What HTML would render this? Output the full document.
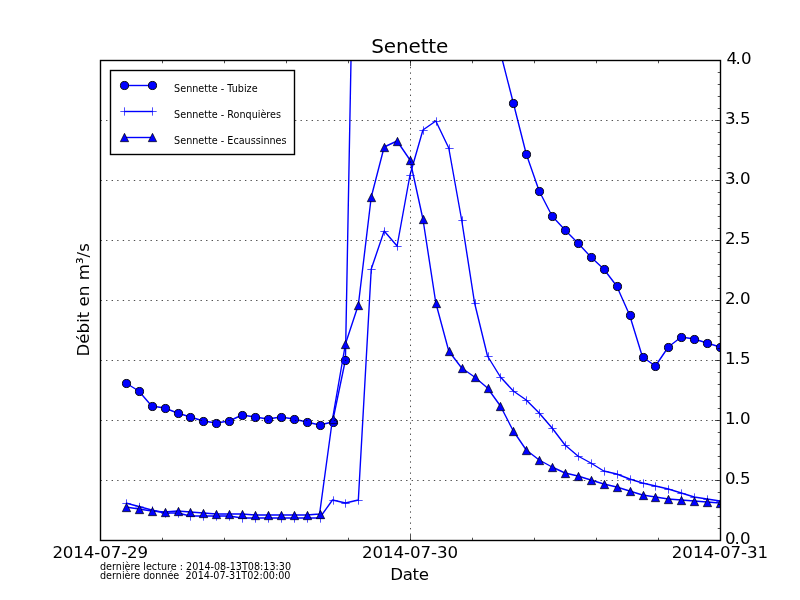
<!DOCTYPE html>
<html lang="fr"><head><meta charset="utf-8"><title>Senette</title>
<style>html,body{margin:0;padding:0;background:#fff}body{width:800px;height:600px;overflow:hidden}svg{display:block}text{font-family:"DejaVu Sans","Liberation Sans",sans-serif;fill:#000}.t{font-size:16.667px}.s{font-size:9.65px;white-space:pre}.h{font-size:20px}</style></head><body>
<svg width="800" height="600" viewBox="0 0 800 600">
<rect width="800" height="600" fill="#fff"/>
<defs><clipPath id="ax"><rect x="100.5" y="60.5" width="620" height="480"/></clipPath></defs>
<g clip-path="url(#ax)">
<polyline points="125.83,383 138.75,391 151.67,406 164.58,408 177.5,413 190.42,417 203.33,421 216.25,423 229.17,421 242.08,415 255,417 267.92,419 280.83,417 293.75,419 306.67,422 319.58,425 332.5,422 345.42,360 358.33,-334.5 371.25,-500.5 384.17,-500.5 397.08,-500.5 410,-500.5 422.92,-500.5 435.83,-500.5 448.75,-500.5 461.67,-500.5 474.58,-400.5 487.5,-200.5 500.42,52.5 513.33,103 526.25,154 539.17,191 552.08,216 565,230 577.92,243 590.83,257 603.75,269 616.67,286 629.58,315 642.5,357 655.42,366 668.33,347 681.25,337 694.17,339 707.08,343 720,347" fill="none" stroke="#0000ff" stroke-width="1.39" stroke-linejoin="round"/>
<circle cx="126.5" cy="383.5" r="4.05" fill="#0000ff" stroke="#000" stroke-width="0.95"/><circle cx="139.5" cy="391.5" r="4.05" fill="#0000ff" stroke="#000" stroke-width="0.95"/><circle cx="152.5" cy="406.5" r="4.05" fill="#0000ff" stroke="#000" stroke-width="0.95"/><circle cx="165.5" cy="408.5" r="4.05" fill="#0000ff" stroke="#000" stroke-width="0.95"/><circle cx="178.5" cy="413.5" r="4.05" fill="#0000ff" stroke="#000" stroke-width="0.95"/><circle cx="190.5" cy="417.5" r="4.05" fill="#0000ff" stroke="#000" stroke-width="0.95"/><circle cx="203.5" cy="421.5" r="4.05" fill="#0000ff" stroke="#000" stroke-width="0.95"/><circle cx="216.5" cy="423.5" r="4.05" fill="#0000ff" stroke="#000" stroke-width="0.95"/><circle cx="229.5" cy="421.5" r="4.05" fill="#0000ff" stroke="#000" stroke-width="0.95"/><circle cx="242.5" cy="415.5" r="4.05" fill="#0000ff" stroke="#000" stroke-width="0.95"/><circle cx="255.5" cy="417.5" r="4.05" fill="#0000ff" stroke="#000" stroke-width="0.95"/><circle cx="268.5" cy="419.5" r="4.05" fill="#0000ff" stroke="#000" stroke-width="0.95"/><circle cx="281.5" cy="417.5" r="4.05" fill="#0000ff" stroke="#000" stroke-width="0.95"/><circle cx="294.5" cy="419.5" r="4.05" fill="#0000ff" stroke="#000" stroke-width="0.95"/><circle cx="307.5" cy="422.5" r="4.05" fill="#0000ff" stroke="#000" stroke-width="0.95"/><circle cx="320.5" cy="425.5" r="4.05" fill="#0000ff" stroke="#000" stroke-width="0.95"/><circle cx="333.5" cy="422.5" r="4.05" fill="#0000ff" stroke="#000" stroke-width="0.95"/><circle cx="345.5" cy="360.5" r="4.05" fill="#0000ff" stroke="#000" stroke-width="0.95"/><circle cx="500.5" cy="53" r="4.05" fill="#0000ff" stroke="#000" stroke-width="0.95"/><circle cx="513.5" cy="103.5" r="4.05" fill="#0000ff" stroke="#000" stroke-width="0.95"/><circle cx="526.5" cy="154.5" r="4.05" fill="#0000ff" stroke="#000" stroke-width="0.95"/><circle cx="539.5" cy="191.5" r="4.05" fill="#0000ff" stroke="#000" stroke-width="0.95"/><circle cx="552.5" cy="216.5" r="4.05" fill="#0000ff" stroke="#000" stroke-width="0.95"/><circle cx="565.5" cy="230.5" r="4.05" fill="#0000ff" stroke="#000" stroke-width="0.95"/><circle cx="578.5" cy="243.5" r="4.05" fill="#0000ff" stroke="#000" stroke-width="0.95"/><circle cx="591.5" cy="257.5" r="4.05" fill="#0000ff" stroke="#000" stroke-width="0.95"/><circle cx="604.5" cy="269.5" r="4.05" fill="#0000ff" stroke="#000" stroke-width="0.95"/><circle cx="617.5" cy="286.5" r="4.05" fill="#0000ff" stroke="#000" stroke-width="0.95"/><circle cx="630.5" cy="315.5" r="4.05" fill="#0000ff" stroke="#000" stroke-width="0.95"/><circle cx="643.5" cy="357.5" r="4.05" fill="#0000ff" stroke="#000" stroke-width="0.95"/><circle cx="655.5" cy="366.5" r="4.05" fill="#0000ff" stroke="#000" stroke-width="0.95"/><circle cx="668.5" cy="347.5" r="4.05" fill="#0000ff" stroke="#000" stroke-width="0.95"/><circle cx="681.5" cy="337.5" r="4.05" fill="#0000ff" stroke="#000" stroke-width="0.95"/><circle cx="694.5" cy="339.5" r="4.05" fill="#0000ff" stroke="#000" stroke-width="0.95"/><circle cx="707.5" cy="343.5" r="4.05" fill="#0000ff" stroke="#000" stroke-width="0.95"/><circle cx="720.5" cy="347.5" r="4.05" fill="#0000ff" stroke="#000" stroke-width="0.95"/>
<polyline points="125.83,503 138.75,506.5 151.67,510 164.58,513 177.5,513 190.42,516 203.33,516 216.25,516 229.17,516 242.08,518 255,518 267.92,518 280.83,518 293.75,518 306.67,518 319.58,518 332.5,500 345.42,503 358.33,500 371.25,269 384.17,231 397.08,246 410,175 422.92,130 435.83,121 448.75,148 461.67,220 474.58,303 487.5,356 500.42,377 513.33,391 526.25,400 539.17,413 552.08,428 565,445 577.92,456 590.83,463 603.75,471 616.67,474 629.58,479 642.5,483 655.42,486 668.33,489 681.25,493 694.17,497 707.08,499 720,501" fill="none" stroke="#0000ff" stroke-width="1.39" stroke-linejoin="round"/>
<path d="M122.33 503.5H130.67M126.5 499.33V507.67" fill="none" stroke="#0000ff" stroke-width="0.69"/><path d="M135.33 507H143.67M139.5 502.83V511.17" fill="none" stroke="#0000ff" stroke-width="0.69"/><path d="M148.33 510.5H156.67M152.5 506.33V514.67" fill="none" stroke="#0000ff" stroke-width="0.69"/><path d="M161.33 513.5H169.67M165.5 509.33V517.67" fill="none" stroke="#0000ff" stroke-width="0.69"/><path d="M174.33 513.5H182.67M178.5 509.33V517.67" fill="none" stroke="#0000ff" stroke-width="0.69"/><path d="M186.33 516.5H194.67M190.5 512.33V520.67" fill="none" stroke="#0000ff" stroke-width="0.69"/><path d="M199.33 516.5H207.67M203.5 512.33V520.67" fill="none" stroke="#0000ff" stroke-width="0.69"/><path d="M212.33 516.5H220.67M216.5 512.33V520.67" fill="none" stroke="#0000ff" stroke-width="0.69"/><path d="M225.33 516.5H233.67M229.5 512.33V520.67" fill="none" stroke="#0000ff" stroke-width="0.69"/><path d="M238.33 518.5H246.67M242.5 514.33V522.67" fill="none" stroke="#0000ff" stroke-width="0.69"/><path d="M251.33 518.5H259.67M255.5 514.33V522.67" fill="none" stroke="#0000ff" stroke-width="0.69"/><path d="M264.33 518.5H272.67M268.5 514.33V522.67" fill="none" stroke="#0000ff" stroke-width="0.69"/><path d="M277.33 518.5H285.67M281.5 514.33V522.67" fill="none" stroke="#0000ff" stroke-width="0.69"/><path d="M290.33 518.5H298.67M294.5 514.33V522.67" fill="none" stroke="#0000ff" stroke-width="0.69"/><path d="M303.33 518.5H311.67M307.5 514.33V522.67" fill="none" stroke="#0000ff" stroke-width="0.69"/><path d="M316.33 518.5H324.67M320.5 514.33V522.67" fill="none" stroke="#0000ff" stroke-width="0.69"/><path d="M329.33 500.5H337.67M333.5 496.33V504.67" fill="none" stroke="#0000ff" stroke-width="0.69"/><path d="M341.33 503.5H349.67M345.5 499.33V507.67" fill="none" stroke="#0000ff" stroke-width="0.69"/><path d="M354.33 500.5H362.67M358.5 496.33V504.67" fill="none" stroke="#0000ff" stroke-width="0.69"/><path d="M367.33 269.5H375.67M371.5 265.33V273.67" fill="none" stroke="#0000ff" stroke-width="0.69"/><path d="M380.33 231.5H388.67M384.5 227.33V235.67" fill="none" stroke="#0000ff" stroke-width="0.69"/><path d="M393.33 246.5H401.67M397.5 242.33V250.67" fill="none" stroke="#0000ff" stroke-width="0.69"/><path d="M406.33 175.5H414.67M410.5 171.33V179.67" fill="none" stroke="#0000ff" stroke-width="0.69"/><path d="M419.33 130.5H427.67M423.5 126.33V134.67" fill="none" stroke="#0000ff" stroke-width="0.69"/><path d="M432.33 121.5H440.67M436.5 117.33V125.67" fill="none" stroke="#0000ff" stroke-width="0.69"/><path d="M445.33 148.5H453.67M449.5 144.33V152.67" fill="none" stroke="#0000ff" stroke-width="0.69"/><path d="M458.33 220.5H466.67M462.5 216.33V224.67" fill="none" stroke="#0000ff" stroke-width="0.69"/><path d="M471.33 303.5H479.67M475.5 299.33V307.67" fill="none" stroke="#0000ff" stroke-width="0.69"/><path d="M484.33 356.5H492.67M488.5 352.33V360.67" fill="none" stroke="#0000ff" stroke-width="0.69"/><path d="M496.33 377.5H504.67M500.5 373.33V381.67" fill="none" stroke="#0000ff" stroke-width="0.69"/><path d="M509.33 391.5H517.67M513.5 387.33V395.67" fill="none" stroke="#0000ff" stroke-width="0.69"/><path d="M522.33 400.5H530.67M526.5 396.33V404.67" fill="none" stroke="#0000ff" stroke-width="0.69"/><path d="M535.33 413.5H543.67M539.5 409.33V417.67" fill="none" stroke="#0000ff" stroke-width="0.69"/><path d="M548.33 428.5H556.67M552.5 424.33V432.67" fill="none" stroke="#0000ff" stroke-width="0.69"/><path d="M561.33 445.5H569.67M565.5 441.33V449.67" fill="none" stroke="#0000ff" stroke-width="0.69"/><path d="M574.33 456.5H582.67M578.5 452.33V460.67" fill="none" stroke="#0000ff" stroke-width="0.69"/><path d="M587.33 463.5H595.67M591.5 459.33V467.67" fill="none" stroke="#0000ff" stroke-width="0.69"/><path d="M600.33 471.5H608.67M604.5 467.33V475.67" fill="none" stroke="#0000ff" stroke-width="0.69"/><path d="M613.33 474.5H621.67M617.5 470.33V478.67" fill="none" stroke="#0000ff" stroke-width="0.69"/><path d="M626.33 479.5H634.67M630.5 475.33V483.67" fill="none" stroke="#0000ff" stroke-width="0.69"/><path d="M639.33 483.5H647.67M643.5 479.33V487.67" fill="none" stroke="#0000ff" stroke-width="0.69"/><path d="M651.33 486.5H659.67M655.5 482.33V490.67" fill="none" stroke="#0000ff" stroke-width="0.69"/><path d="M664.33 489.5H672.67M668.5 485.33V493.67" fill="none" stroke="#0000ff" stroke-width="0.69"/><path d="M677.33 493.5H685.67M681.5 489.33V497.67" fill="none" stroke="#0000ff" stroke-width="0.69"/><path d="M690.33 497.5H698.67M694.5 493.33V501.67" fill="none" stroke="#0000ff" stroke-width="0.69"/><path d="M703.33 499.5H711.67M707.5 495.33V503.67" fill="none" stroke="#0000ff" stroke-width="0.69"/><path d="M716.33 501.5H724.67M720.5 497.33V505.67" fill="none" stroke="#0000ff" stroke-width="0.69"/>
<polyline points="125.83,507 138.75,509 151.67,511 164.58,512 177.5,511 190.42,512 203.33,513 216.25,514 229.17,514 242.08,514 255,515 267.92,515 280.83,515 293.75,515 306.67,515 319.58,514 332.5,419 345.42,344 358.33,305 371.25,197 384.17,147 397.08,141 410,160 422.92,219 435.83,303 448.75,351 461.67,368 474.58,377 487.5,388 500.42,406 513.33,431 526.25,450 539.17,460 552.08,467 565,473 577.92,476 590.83,480 603.75,484 616.67,487 629.58,491 642.5,495 655.42,497 668.33,499 681.25,500 694.17,501 707.08,502 720,503" fill="none" stroke="#0000ff" stroke-width="1.39" stroke-linejoin="round"/>
<path d="M126.5 503.33L122.33 511.67L130.67 511.67Z" fill="#0000ff" stroke="#000" stroke-width="0.69" stroke-linejoin="miter"/><path d="M139.5 505.33L135.33 513.67L143.67 513.67Z" fill="#0000ff" stroke="#000" stroke-width="0.69" stroke-linejoin="miter"/><path d="M152.5 507.33L148.33 515.67L156.67 515.67Z" fill="#0000ff" stroke="#000" stroke-width="0.69" stroke-linejoin="miter"/><path d="M165.5 508.33L161.33 516.67L169.67 516.67Z" fill="#0000ff" stroke="#000" stroke-width="0.69" stroke-linejoin="miter"/><path d="M178.5 507.33L174.33 515.67L182.67 515.67Z" fill="#0000ff" stroke="#000" stroke-width="0.69" stroke-linejoin="miter"/><path d="M190.5 508.33L186.33 516.67L194.67 516.67Z" fill="#0000ff" stroke="#000" stroke-width="0.69" stroke-linejoin="miter"/><path d="M203.5 509.33L199.33 517.67L207.67 517.67Z" fill="#0000ff" stroke="#000" stroke-width="0.69" stroke-linejoin="miter"/><path d="M216.5 510.33L212.33 518.67L220.67 518.67Z" fill="#0000ff" stroke="#000" stroke-width="0.69" stroke-linejoin="miter"/><path d="M229.5 510.33L225.33 518.67L233.67 518.67Z" fill="#0000ff" stroke="#000" stroke-width="0.69" stroke-linejoin="miter"/><path d="M242.5 510.33L238.33 518.67L246.67 518.67Z" fill="#0000ff" stroke="#000" stroke-width="0.69" stroke-linejoin="miter"/><path d="M255.5 511.33L251.33 519.67L259.67 519.67Z" fill="#0000ff" stroke="#000" stroke-width="0.69" stroke-linejoin="miter"/><path d="M268.5 511.33L264.33 519.67L272.67 519.67Z" fill="#0000ff" stroke="#000" stroke-width="0.69" stroke-linejoin="miter"/><path d="M281.5 511.33L277.33 519.67L285.67 519.67Z" fill="#0000ff" stroke="#000" stroke-width="0.69" stroke-linejoin="miter"/><path d="M294.5 511.33L290.33 519.67L298.67 519.67Z" fill="#0000ff" stroke="#000" stroke-width="0.69" stroke-linejoin="miter"/><path d="M307.5 511.33L303.33 519.67L311.67 519.67Z" fill="#0000ff" stroke="#000" stroke-width="0.69" stroke-linejoin="miter"/><path d="M320.5 510.33L316.33 518.67L324.67 518.67Z" fill="#0000ff" stroke="#000" stroke-width="0.69" stroke-linejoin="miter"/><path d="M333.5 415.33L329.33 423.67L337.67 423.67Z" fill="#0000ff" stroke="#000" stroke-width="0.69" stroke-linejoin="miter"/><path d="M345.5 340.33L341.33 348.67L349.67 348.67Z" fill="#0000ff" stroke="#000" stroke-width="0.69" stroke-linejoin="miter"/><path d="M358.5 301.33L354.33 309.67L362.67 309.67Z" fill="#0000ff" stroke="#000" stroke-width="0.69" stroke-linejoin="miter"/><path d="M371.5 193.33L367.33 201.67L375.67 201.67Z" fill="#0000ff" stroke="#000" stroke-width="0.69" stroke-linejoin="miter"/><path d="M384.5 143.33L380.33 151.67L388.67 151.67Z" fill="#0000ff" stroke="#000" stroke-width="0.69" stroke-linejoin="miter"/><path d="M397.5 137.33L393.33 145.67L401.67 145.67Z" fill="#0000ff" stroke="#000" stroke-width="0.69" stroke-linejoin="miter"/><path d="M410.5 156.33L406.33 164.67L414.67 164.67Z" fill="#0000ff" stroke="#000" stroke-width="0.69" stroke-linejoin="miter"/><path d="M423.5 215.33L419.33 223.67L427.67 223.67Z" fill="#0000ff" stroke="#000" stroke-width="0.69" stroke-linejoin="miter"/><path d="M436.5 299.33L432.33 307.67L440.67 307.67Z" fill="#0000ff" stroke="#000" stroke-width="0.69" stroke-linejoin="miter"/><path d="M449.5 347.33L445.33 355.67L453.67 355.67Z" fill="#0000ff" stroke="#000" stroke-width="0.69" stroke-linejoin="miter"/><path d="M462.5 364.33L458.33 372.67L466.67 372.67Z" fill="#0000ff" stroke="#000" stroke-width="0.69" stroke-linejoin="miter"/><path d="M475.5 373.33L471.33 381.67L479.67 381.67Z" fill="#0000ff" stroke="#000" stroke-width="0.69" stroke-linejoin="miter"/><path d="M488.5 384.33L484.33 392.67L492.67 392.67Z" fill="#0000ff" stroke="#000" stroke-width="0.69" stroke-linejoin="miter"/><path d="M500.5 402.33L496.33 410.67L504.67 410.67Z" fill="#0000ff" stroke="#000" stroke-width="0.69" stroke-linejoin="miter"/><path d="M513.5 427.33L509.33 435.67L517.67 435.67Z" fill="#0000ff" stroke="#000" stroke-width="0.69" stroke-linejoin="miter"/><path d="M526.5 446.33L522.33 454.67L530.67 454.67Z" fill="#0000ff" stroke="#000" stroke-width="0.69" stroke-linejoin="miter"/><path d="M539.5 456.33L535.33 464.67L543.67 464.67Z" fill="#0000ff" stroke="#000" stroke-width="0.69" stroke-linejoin="miter"/><path d="M552.5 463.33L548.33 471.67L556.67 471.67Z" fill="#0000ff" stroke="#000" stroke-width="0.69" stroke-linejoin="miter"/><path d="M565.5 469.33L561.33 477.67L569.67 477.67Z" fill="#0000ff" stroke="#000" stroke-width="0.69" stroke-linejoin="miter"/><path d="M578.5 472.33L574.33 480.67L582.67 480.67Z" fill="#0000ff" stroke="#000" stroke-width="0.69" stroke-linejoin="miter"/><path d="M591.5 476.33L587.33 484.67L595.67 484.67Z" fill="#0000ff" stroke="#000" stroke-width="0.69" stroke-linejoin="miter"/><path d="M604.5 480.33L600.33 488.67L608.67 488.67Z" fill="#0000ff" stroke="#000" stroke-width="0.69" stroke-linejoin="miter"/><path d="M617.5 483.33L613.33 491.67L621.67 491.67Z" fill="#0000ff" stroke="#000" stroke-width="0.69" stroke-linejoin="miter"/><path d="M630.5 487.33L626.33 495.67L634.67 495.67Z" fill="#0000ff" stroke="#000" stroke-width="0.69" stroke-linejoin="miter"/><path d="M643.5 491.33L639.33 499.67L647.67 499.67Z" fill="#0000ff" stroke="#000" stroke-width="0.69" stroke-linejoin="miter"/><path d="M655.5 493.33L651.33 501.67L659.67 501.67Z" fill="#0000ff" stroke="#000" stroke-width="0.69" stroke-linejoin="miter"/><path d="M668.5 495.33L664.33 503.67L672.67 503.67Z" fill="#0000ff" stroke="#000" stroke-width="0.69" stroke-linejoin="miter"/><path d="M681.5 496.33L677.33 504.67L685.67 504.67Z" fill="#0000ff" stroke="#000" stroke-width="0.69" stroke-linejoin="miter"/><path d="M694.5 497.33L690.33 505.67L698.67 505.67Z" fill="#0000ff" stroke="#000" stroke-width="0.69" stroke-linejoin="miter"/><path d="M707.5 498.33L703.33 506.67L711.67 506.67Z" fill="#0000ff" stroke="#000" stroke-width="0.69" stroke-linejoin="miter"/><path d="M720.5 499.33L716.33 507.67L724.67 507.67Z" fill="#0000ff" stroke="#000" stroke-width="0.69" stroke-linejoin="miter"/>
</g>
<path d="M100.5 480.5H720.5M100.5 420.5H720.5M100.5 360.5H720.5M100.5 300.5H720.5M100.5 240.5H720.5M100.5 180.5H720.5M100.5 120.5H720.5" fill="none" stroke="#000" stroke-width="0.69" stroke-dasharray="1.389 4.167"/>
<path d="M410.5 540.5V60.5" fill="none" stroke="#000" stroke-width="0.69" stroke-dasharray="1.389 4.167"/>
<path d="M100.5 540.5v-5.56M100.5 60.5v5.56M410.5 540.5v-5.56M410.5 60.5v5.56M720.5 540.5v-5.56M720.5 60.5v5.56M720.5 540.5h-5.56M720.5 480.5h-5.56M720.5 420.5h-5.56M720.5 360.5h-5.56M720.5 300.5h-5.56M720.5 240.5h-5.56M720.5 180.5h-5.56M720.5 120.5h-5.56M720.5 60.5h-5.56" fill="none" stroke="#000" stroke-width="0.69"/>
<path d="M162.5 540.5v-2.78M162.5 60.5v2.78M224.5 540.5v-2.78M224.5 60.5v2.78M286.5 540.5v-2.78M286.5 60.5v2.78M348.5 540.5v-2.78M348.5 60.5v2.78M472.5 540.5v-2.78M472.5 60.5v2.78M534.5 540.5v-2.78M534.5 60.5v2.78M596.5 540.5v-2.78M596.5 60.5v2.78M658.5 540.5v-2.78M658.5 60.5v2.78M720.5 528.5h-2.78M720.5 516.5h-2.78M720.5 504.5h-2.78M720.5 492.5h-2.78M720.5 468.5h-2.78M720.5 456.5h-2.78M720.5 444.5h-2.78M720.5 432.5h-2.78M720.5 408.5h-2.78M720.5 396.5h-2.78M720.5 384.5h-2.78M720.5 372.5h-2.78M720.5 348.5h-2.78M720.5 336.5h-2.78M720.5 324.5h-2.78M720.5 312.5h-2.78M720.5 288.5h-2.78M720.5 276.5h-2.78M720.5 264.5h-2.78M720.5 252.5h-2.78M720.5 228.5h-2.78M720.5 216.5h-2.78M720.5 204.5h-2.78M720.5 192.5h-2.78M720.5 168.5h-2.78M720.5 156.5h-2.78M720.5 144.5h-2.78M720.5 132.5h-2.78M720.5 108.5h-2.78M720.5 96.5h-2.78M720.5 84.5h-2.78M720.5 72.5h-2.78" fill="none" stroke="#000" stroke-width="0.69"/>
<rect x="100.5" y="60.5" width="620" height="480" fill="none" stroke="#000" stroke-width="1.389"/>
<text class="t" x="724.9 734.4 739.9" y="543.8">0.0</text>
<text class="t" x="724.9 734.4 739.9" y="483.8">0.5</text>
<text class="t" x="724.9 734.4 739.9" y="423.8">1.0</text>
<text class="t" x="724.9 734.4 739.9" y="363.8">1.5</text>
<text class="t" x="724.9 734.4 739.9" y="303.8">2.0</text>
<text class="t" x="724.9 734.4 739.9" y="243.8">2.5</text>
<text class="t" x="724.9 734.4 739.9" y="183.8">3.0</text>
<text class="t" x="724.9 734.4 739.9" y="123.8">3.5</text>
<text class="t" x="726.4 735.4 740.9" y="63.8">4.0</text>
<text class="t" x="100.2" y="558" text-anchor="middle" style="letter-spacing:-0.12px">2014-07-29</text>
<text class="t" x="410" y="558" text-anchor="middle" style="letter-spacing:-0.08px">2014-07-30</text>
<text class="t" x="719.93" y="558" text-anchor="middle" style="letter-spacing:-0.06px">2014-07-31</text>
<text class="h" x="409.7" y="53.1" text-anchor="middle" style="letter-spacing:-0.12px">Senette</text>
<text class="t" x="390.3" y="580.2" style="letter-spacing:-0.4px">Date</text>
<text class="t" transform="translate(89 299.8) rotate(-90)" text-anchor="middle">Débit en m³/s</text>
<text class="s" x="100" y="570" xml:space="preserve">dernière lecture : 2014-08-13T08:13:30</text>
<text class="s" x="100" y="579" xml:space="preserve">dernière donnée  2014-07-31T02:00:00</text>
<rect x="110.5" y="70.5" width="184" height="84" fill="#fff" stroke="#000" stroke-width="1.389"/>
<path d="M124.5 85.5H152.5" fill="none" stroke="#0000ff" stroke-width="1.39"/>
<circle cx="124.5" cy="85.5" r="4.05" fill="#0000ff" stroke="#000" stroke-width="0.95"/>
<circle cx="152.5" cy="85.5" r="4.05" fill="#0000ff" stroke="#000" stroke-width="0.95"/>
<text class="s" x="174.1" y="91.5">Sennette - Tubize</text>
<path d="M124.5 111.5H152.5" fill="none" stroke="#0000ff" stroke-width="1.39"/>
<path d="M120.33 111.5H128.67M124.5 107.33V115.67" fill="none" stroke="#0000ff" stroke-width="0.69"/>
<path d="M148.33 111.5H156.67M152.5 107.33V115.67" fill="none" stroke="#0000ff" stroke-width="0.69"/>
<text class="s" x="174.1" y="117.5">Sennette - Ronquières</text>
<path d="M124.5 137.5H152.5" fill="none" stroke="#0000ff" stroke-width="1.39"/>
<path d="M124.5 133.33L120.33 141.67L128.67 141.67Z" fill="#0000ff" stroke="#000" stroke-width="0.69" stroke-linejoin="miter"/>
<path d="M152.5 133.33L148.33 141.67L156.67 141.67Z" fill="#0000ff" stroke="#000" stroke-width="0.69" stroke-linejoin="miter"/>
<text class="s" x="174.1" y="143.5">Sennette - Ecaussinnes</text>
</svg></body></html>
